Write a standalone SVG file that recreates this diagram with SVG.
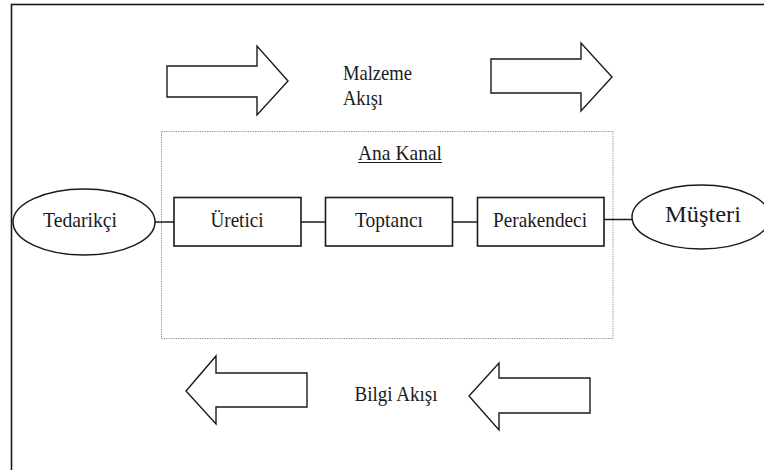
<svg xmlns="http://www.w3.org/2000/svg" width="764" height="470" viewBox="0 0 764 470">
<style>
  .lbl { font-family: "Liberation Serif", "Times New Roman", serif; font-size: 22px; fill: #1a1a1a; }
  .box { fill: #ffffff; stroke: #1a1a1a; stroke-width: 1.6; }
  .ell { fill: #ffffff; stroke: #1a1a1a; stroke-width: 1.5; }
  .arrow { fill: #ffffff; stroke: #1a1a1a; stroke-width: 1.4; stroke-linejoin: miter; }
  .conn { stroke: #1a1a1a; stroke-width: 1.5; fill: none; }
</style>
<rect x="0" y="0" width="764" height="470" fill="#ffffff"/>
<rect x="11.5" y="4.5" width="770" height="480" fill="none" stroke="#1a1a1a" stroke-width="1.6"/>

<g id="flow-arrows">
  <polygon class="arrow" points="167,66 257,66 257,46 288,81 257,115 257,97 167,97"/>
  <polygon class="arrow" points="491,59 581,59 581,43 612,77 581,111 581,93 491,93"/>
  <polygon class="arrow" points="307,373 216,373 216,356 186,391 216,424 216,407 307,407"/>
  <polygon class="arrow" points="590,378 499,378 499,363 469,396 499,430 499,413 590,413"/>
</g>

<g id="malzeme-label">
  <text class="lbl" x="343" y="80" textLength="69" lengthAdjust="spacingAndGlyphs">Malzeme</text>
  <text class="lbl" x="343" y="105" textLength="40" lengthAdjust="spacingAndGlyphs">Akışı</text>
</g>
<g id="bilgi-label">
  <text class="lbl" x="396" y="401" text-anchor="middle" textLength="83" lengthAdjust="spacingAndGlyphs">Bilgi Akışı</text>
</g>

<g id="ana-kanal">
  <rect x="161.5" y="131.5" width="451.5" height="207" fill="none" stroke="#888888" stroke-width="1" stroke-dasharray="1.2 1.2"/>
  <text class="lbl" x="358" y="160" textLength="84" lengthAdjust="spacingAndGlyphs">Ana Kanal</text>
  <line x1="358" y1="162.5" x2="442" y2="162.5" stroke="#1a1a1a" stroke-width="1"/>
</g>

<g id="connectors">
  <line class="conn" x1="155" y1="222" x2="174" y2="222"/>
  <line class="conn" x1="301" y1="222" x2="325.5" y2="222"/>
  <line class="conn" x1="452.5" y1="222" x2="477.5" y2="222"/>
  <line class="conn" x1="604" y1="219.5" x2="632" y2="219.5"/>
</g>

<g id="tedarikci">
  <ellipse class="ell" cx="84" cy="222" rx="71" ry="33"/>
  <text class="lbl" x="80" y="227" text-anchor="middle" textLength="74" lengthAdjust="spacingAndGlyphs">Tedarikçi</text>
</g>
<g id="uretici">
  <rect class="box" x="174" y="197.5" width="127" height="48.5"/>
  <text class="lbl" x="237" y="227" text-anchor="middle" textLength="53" lengthAdjust="spacingAndGlyphs">Üretici</text>
</g>
<g id="toptanci">
  <rect class="box" x="325.5" y="197.5" width="127" height="48.5"/>
  <text class="lbl" x="389" y="227" text-anchor="middle" textLength="68" lengthAdjust="spacingAndGlyphs">Toptancı</text>
</g>
<g id="perakendeci">
  <rect class="box" x="477.5" y="197.5" width="126.5" height="48.5"/>
  <text class="lbl" x="540" y="227" text-anchor="middle" textLength="94" lengthAdjust="spacingAndGlyphs">Perakendeci</text>
</g>
<g id="musteri">
  <ellipse class="ell" cx="701" cy="217" rx="69" ry="32"/>
  <text class="lbl" x="703" y="222" text-anchor="middle" style="font-size:23px" textLength="76" lengthAdjust="spacingAndGlyphs">Müşteri</text>
</g>
</svg>
